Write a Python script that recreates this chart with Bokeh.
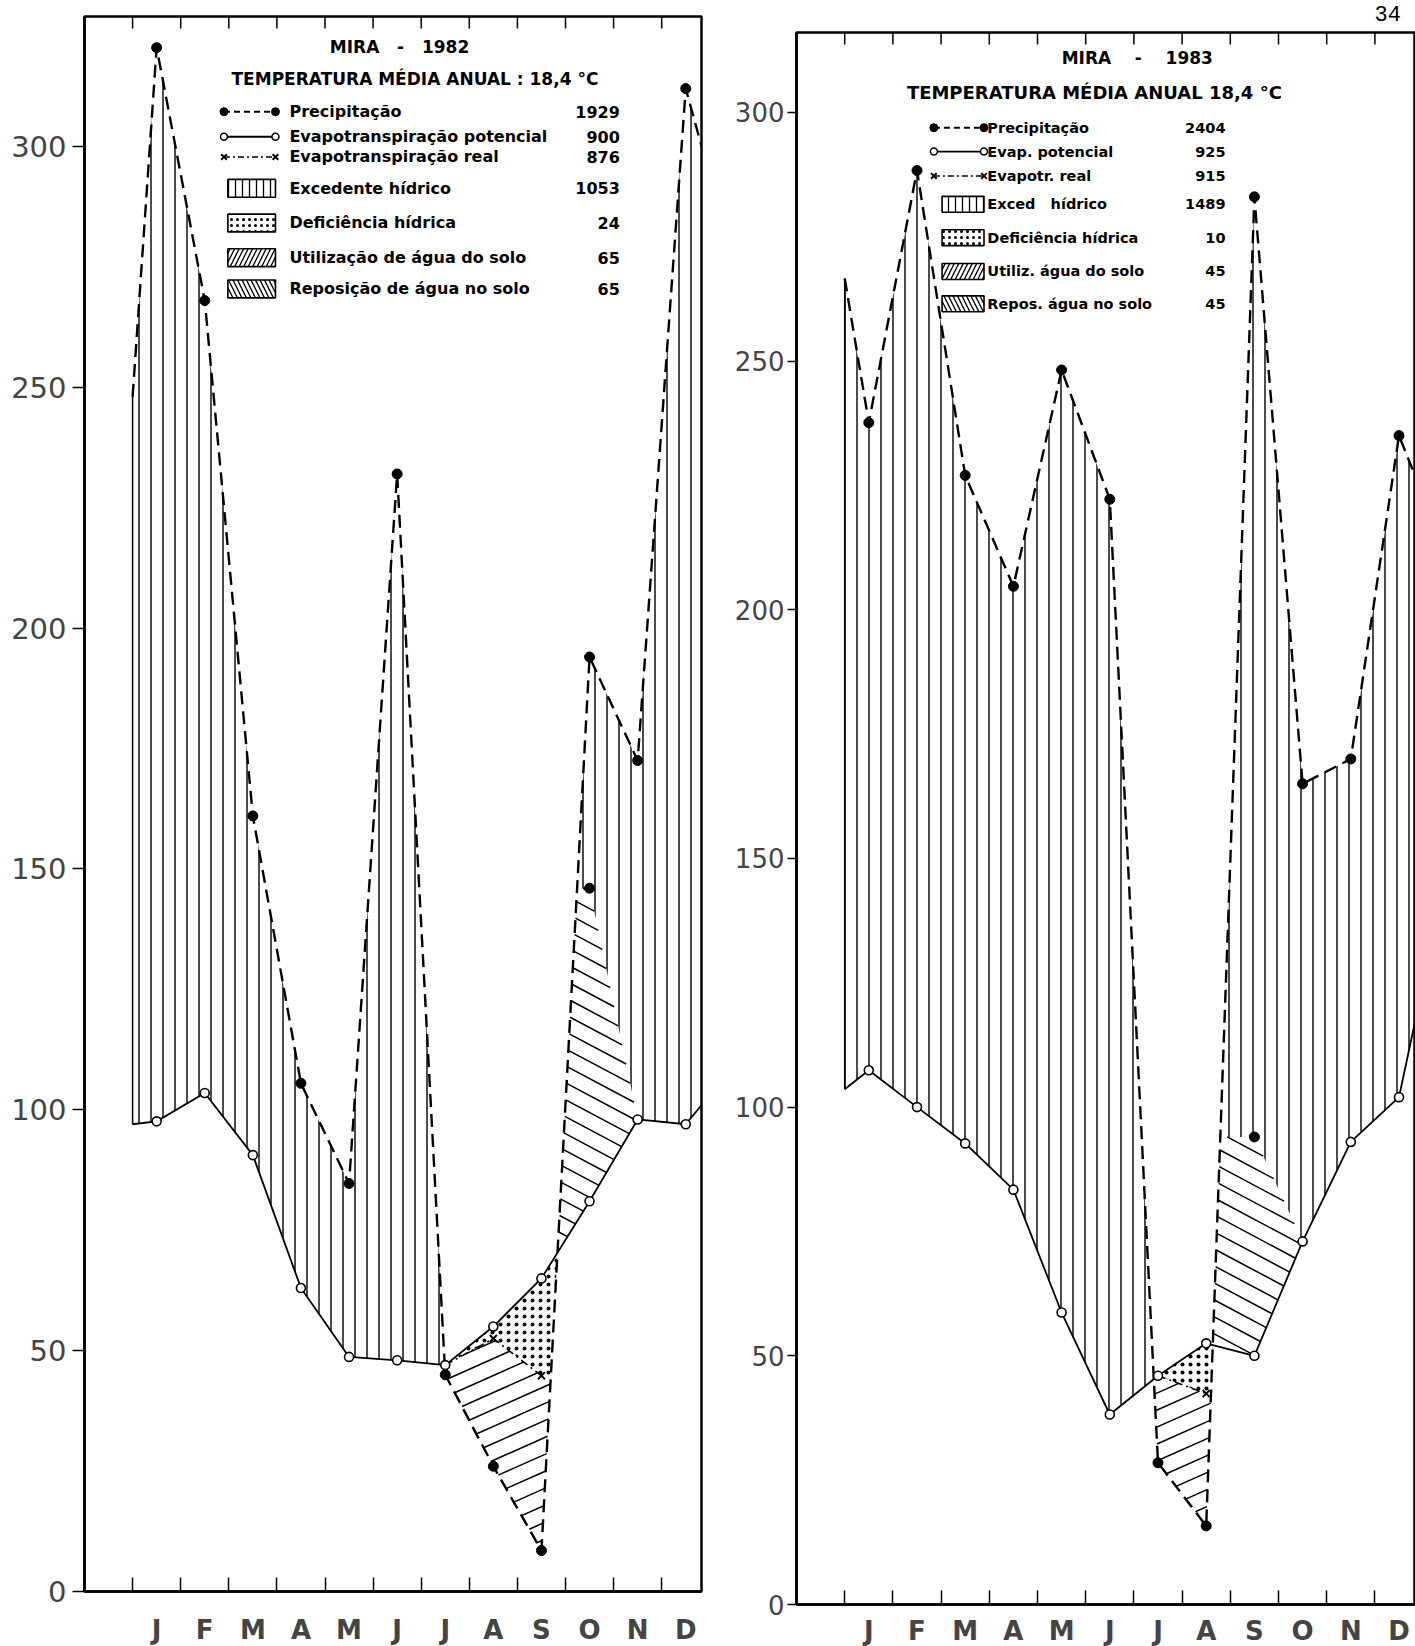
import numpy as np
from bokeh.plotting import figure
from bokeh.layouts import row, column
from bokeh.models import FixedTicker, LinearAxis, Range1d, Div
from bokeh.embed import file_html
from bokeh.resources import INLINE
from bokeh.core.properties import value

# ---------------- data ----------------
MONTHS = ["J", "F", "M", "A", "M", "J", "J", "A", "S", "O", "N", "D"]
MONTH_X = [1.5 + i for i in range(12)]
BOUNDS = list(range(1, 13))
Y_TICKS = [0, 50, 100, 150, 200, 250, 300]
EDGE_X = [1.0, 12.83]

# Mira 1982
P82 = [320.5, 268, 161, 105.5, 84.7, 232, 45, 26, 8.5, 194, 172.5, 312]
ETP82 = [97.6, 103.5, 90.6, 63, 48.7, 48, 47, 55, 65, 81, 98, 97]
P82_EDGE = [248, 300]
ETP82_EDGE = [97, 101]
ETR82_IDX = [6, 7, 8]
ETR82 = [47, 52.5, 44.8]
CAP82_IDX = [9, 10]
CAP82 = [146, 98]
LEG82_LABELS = ["Precipitação", "Evapotranspiração potencial", "Evapotranspiração real",
                "Excedente hídrico", "Deficiência hídrica", "Utilização de água do solo",
                "Reposição de água no solo"]
LEG82_VALUES = ["1929", "900", "876", "1053", "24", "65", "65"]

# Mira 1983
P83 = [237.6, 288.3, 227, 204.7, 248.2, 222.2, 28.5, 15.8, 283, 165, 170, 235]
ETP83 = [107.4, 100, 92.7, 83.4, 58.7, 38.2, 46, 52.5, 50, 73, 93, 102]
P83_EDGE = [266.6, 227]
ETP83_EDGE = [103.6, 117]
ETR83_IDX = [6, 7]
ETR83 = [46, 42.4]
CAP83_IDX = [8, 9]
CAP83 = [94, 73]
LEG83_LABELS = ["Precipitação", "Evap. potencial", "Evapotr. real", "Exced\u00a0\u00a0\u00a0hídrico",
                "Deficiência hídrica", "Utiliz. água do solo", "Repos. água no solo"]
LEG83_VALUES = ["2404", "925", "915", "1489", "10", "45", "45"]

FONT = "DejaVu Sans"
NB = "\u00a0"


def band(x0, x1, ftop, fbot, extra):
    x = np.linspace(x0, x1, 3000)
    x = np.union1d(x, [e for e in extra if x0 <= e <= x1])
    t = ftop(x)
    b = fbot(x)
    idx = np.flatnonzero(t > b + 1e-9)
    xs, ys = [], []
    if len(idx) == 0:
        return xs, ys
    for s in np.split(idx, np.flatnonzero(np.diff(idx) > 1) + 1):
        if len(s) < 2:
            continue
        xx = x[s]
        xs.append(np.concatenate([xx, xx[::-1]]).tolist())
        ys.append(np.concatenate([t[s], b[s][::-1]]).tolist())
    return xs, ys


def hatch_lines(polys_x, polys_y, ang, spacing, ppx, ppy):
    a = np.radians(ang)
    d = (np.cos(a), np.sin(a))
    n = (-np.sin(a), np.cos(a))
    out_x, out_y = [], []
    for qx, qy in zip(polys_x, polys_y):
        X = np.append(np.asarray(qx), qx[0]) * ppx
        Y = np.append(np.asarray(qy), qy[0]) * ppy
        s = X * n[0] + Y * n[1]
        sa, sb = s[:-1], s[1:]
        for k in np.arange(np.ceil(s.min() / spacing), np.floor(s.max() / spacing) + 1):
            s0 = k * spacing + 0.013
            m = (sa - s0) * (sb - s0) < 0
            if not m.any():
                continue
            t = (s0 - sa[m]) / (sb[m] - sa[m])
            xi = X[:-1][m] + t * (X[1:][m] - X[:-1][m])
            yi = Y[:-1][m] + t * (Y[1:][m] - Y[:-1][m])
            o = np.argsort(xi * d[0] + yi * d[1])
            xi, yi = xi[o], yi[o]
            for j in range(0, len(xi) - 1, 2):
                out_x.append([xi[j] / ppx, xi[j + 1] / ppx])
                out_y.append([yi[j] / ppy, yi[j + 1] / ppy])
    return out_x, out_y


def make_panel(P, ETP, P_edge, ETP_edge, ETR_idx, ETR, CAP_idx, CAP, labels, values,
               title, subtitle, lay):
    ppu = lay["fh"] / lay["yend"]
    ppx = lay["fw"] / lay["xend"]
    p = figure(frame_width=lay["fw"], frame_height=lay["fh"],
               x_range=Range1d(0, lay["xend"]), y_range=Range1d(0, lay["yend"]),
               output_backend="svg", toolbar_location=None,
               min_border_left=lay["bl"], min_border_right=lay["br"],
               min_border_top=lay["bt"], min_border_bottom=lay["bb"],
               x_axis_location=None, y_axis_location=None)
    p.background_fill_color = "white"
    p.border_fill_color = "white"
    p.outline_line_color = "black"
    p.outline_line_width = 2.5
    p.xgrid.visible = False
    p.ygrid.visible = False

    yax = LinearAxis(ticker=FixedTicker(ticks=Y_TICKS))
    yax.axis_line_width = 2.5
    yax.major_tick_out = lay["ytick"]
    yax.major_tick_in = 0
    yax.major_tick_line_width = 1.5
    yax.minor_tick_line_color = None
    yax.major_label_text_font = FONT
    yax.major_label_text_font_size = lay["yfs"]
    yax.major_label_standoff = lay["ystand"]
    p.add_layout(yax, "left")

    xax = LinearAxis(ticker=FixedTicker(ticks=MONTH_X, minor_ticks=BOUNDS))
    xax.major_label_overrides = {mx: m for mx, m in zip(MONTH_X, MONTHS)}
    xax.axis_line_width = 2.5
    xax.major_tick_in = 0
    xax.major_tick_out = 0
    xax.minor_tick_in = 14
    xax.minor_tick_out = 0
    xax.minor_tick_line_width = 1.5
    xax.major_label_text_font = FONT
    xax.major_label_text_font_style = "bold"
    xax.major_label_text_font_size = "26px"
    xax.major_label_standoff = lay["xstand"]
    p.add_layout(xax, "below")

    ytop = lay["yend"]
    p.segment(x0=BOUNDS, y0=[ytop] * len(BOUNDS), x1=BOUNDS,
              y1=[ytop - 12 / ppu] * len(BOUNDS), line_color="black", line_width=1.5)

    px = [EDGE_X[0]] + MONTH_X + [EDGE_X[1]]
    py = [P_edge[0]] + P + [P_edge[1]]
    ey = [ETP_edge[0]] + ETP + [ETP_edge[1]]
    rx = [MONTH_X[i] for i in ETR_idx]
    cx = [MONTH_X[i] for i in CAP_idx]

    fP = lambda x: np.interp(x, px, py)
    fE = lambda x: np.interp(x, px, ey)
    fR = lambda x: np.interp(x, rx, ETR)
    fC = lambda x: np.interp(x, cx, CAP)
    cz0, cz1 = cx[0] - 1, cx[-1]
    extra = px + rx + cx

    def fBotExc(x):
        b = fE(x)
        inz = (x >= cz0) & (x <= cz1)
        return np.where(inz, np.maximum(b, fC(x)), b)

    # water surplus: vertical hatching
    xs, ys = band(EDGE_X[0], EDGE_X[1], fP, fBotExc, extra)
    p.patches(xs, ys, fill_color=None, line_color=None, hatch_pattern="vertical_line",
              hatch_scale=12, hatch_weight=1.4, hatch_color="black")

    # soil water recharge: falling hatch
    xs, ys = band(cz0, cz1, lambda x: np.minimum(fP(x), fC(x)), fE, extra)
    hx, hy = hatch_lines(xs, ys, -28, 15, ppx, ppu)
    p.multi_line(hx, hy, line_color="black", line_width=1.5)

    # soil water use: rising hatch
    xs, ys = band(rx[0] - 1, rx[-1] + 1, lambda x: np.minimum(fR(x), fE(x)), fP, extra)
    hx, hy = hatch_lines(xs, ys, 24, 15.5, ppx, ppu)
    p.multi_line(hx, hy, line_color="black", line_width=1.5)

    # water deficit: dots
    xs, ys = band(rx[0] - 1, rx[-1] + 1, fE, lambda x: np.maximum(fR(x), fP(x)), extra)
    p.patches(xs, ys, fill_color=None, line_color=None, hatch_pattern="dot",
              hatch_scale=8, hatch_weight=2.0, hatch_color="black")

    p.segment(x0=[EDGE_X[0]], y0=[ETP_edge[0]], x1=[EDGE_X[0]], y1=[P_edge[0]],
              line_color="black", line_width=1.5)

    p.line(px, ey, line_color="black", line_width=1.8)
    p.line(px, py, line_color="black", line_width=2.4, line_dash="13 7")
    p.line(rx, ETR, line_color="black", line_width=1.6, line_dash="8 4 2 4")

    p.scatter(MONTH_X, ETP, marker="circle", size=9, fill_color="white",
              line_color="black", line_width=1.6)
    p.scatter(MONTH_X, P, marker="circle", size=10, fill_color="black", line_color="black")
    mx = [x for x, r, i in zip(rx, ETR, ETR_idx) if abs(r - ETP[i]) > 0.5]
    my = [r for r, i in zip(ETR, ETR_idx) if abs(r - ETP[i]) > 0.5]
    p.scatter(mx, my, marker="x", size=10, line_color="black", line_width=2)
    p.scatter([cx[0]], [CAP[0]], marker="circle", size=10, fill_color="black", line_color="black")

    # legend block
    L = lay
    p.text(x=[L["tx"]], y=[L["ty"]], text=[title], text_font=value(FONT), text_font_style="bold",
           text_font_size=L["tfs"], text_align="center", text_baseline="middle")
    p.text(x=[L["sx"]], y=[L["sy"]], text=[subtitle], text_font=value(FONT), text_font_style="bold",
           text_font_size=L["sfs"], text_align="center", text_baseline="middle")
    ry = L["rows"]
    x0, x1 = L["sym"]
    p.line([x0, x1], [ry[0], ry[0]], line_color="black", line_width=2, line_dash="6 4")
    p.scatter([x0, x1], [ry[0], ry[0]], marker="circle", size=8, fill_color="black", line_color="black")
    p.line([x0, x1], [ry[1], ry[1]], line_color="black", line_width=1.8)
    p.scatter([x0, x1], [ry[1], ry[1]], marker="circle", size=7, fill_color="white",
              line_color="black", line_width=1.5)
    p.line([x0, x1], [ry[2], ry[2]], line_color="black", line_width=1.6, line_dash="6 3 2 3")
    p.scatter([x0, x1], [ry[2], ry[2]], marker="x", size=8, line_color="black", line_width=2)
    h = L["bh"] / 2
    for yy, pat, sc in zip(ry[3:], ["vertical_line", "dot", "right_diagonal_line", "left_diagonal_line"],
                           [7, 6, 9, 9]):
        p.quad(left=[L["bx"]], right=[x1], top=[yy + h], bottom=[yy - h], fill_color="white",
               line_color="black", line_width=1.6, hatch_pattern=pat, hatch_scale=sc,
               hatch_weight=1.3, hatch_color="black")
    p.text(x=[L["lx"]] * 7, y=ry, text=labels, text_font=value(FONT), text_font_style="bold",
           text_font_size=L["lfs"], text_baseline="middle")
    p.text(x=[L["nx"]] * 7, y=ry, text=values, text_font=value(FONT), text_font_style="bold",
           text_font_size=L["lfs"], text_baseline="middle", text_align="right")
    return p


lay82 = dict(fw=617, fh=1575, xend=617 / 48.1, yend=1575 / 4.817, bl=84, br=5, bt=16, bb=55,
             xstand=23, ytick=12, ystand=6, yfs="29px",
             tx=6.55, ty=320.7, tfs="17px", sx=6.87, sy=314.0, sfs="17px",
             rows=[307.2, 302.0, 297.8, 291.3, 284.1, 276.9, 270.4],
             sym=(2.90, 3.97), bx=2.98, bh=3.7, lx=4.26, nx=11.13, lfs="16px")
lay83 = dict(fw=619, fh=1572, xend=619 / 48.2, yend=1572 / 4.974, bl=90, br=0, bt=8, bb=42,
             xstand=11, ytick=9, ystand=3, yfs="26px",
             tx=7.07, ty=310.9, tfs="17px", sx=6.18, sy=303.9, sfs="18px",
             rows=[296.9, 292.1, 287.2, 281.5, 274.8, 268.0, 261.5],
             sym=(2.85, 3.89), bx=3.02, bh=3.2, lx=3.96, nx=8.90, lfs="14.5px")

p1 = make_panel(P82, ETP82, P82_EDGE, ETP82_EDGE, ETR82_IDX, ETR82, CAP82_IDX, CAP82,
                LEG82_LABELS, LEG82_VALUES, "MIRA" + NB * 3 + "-" + NB * 3 + "1982",
                "TEMPERATURA MÉDIA ANUAL : 18,4 °C", lay82)
p2 = make_panel(P83, ETP83, P83_EDGE, ETP83_EDGE, ETR83_IDX, ETR83, CAP83_IDX, CAP83,
                LEG83_LABELS, LEG83_VALUES, "MIRA" + NB * 4 + "-" + NB * 4 + "1983",
                "TEMPERATURA MÉDIA ANUAL 18,4 °C", lay83)

page_no = Div(text="34", width=709, height=24, margin=(0, 0, 0, 0),
              styles={"font-family": "Liberation Mono", "font-size": "22px",
                      "text-align": "right", "padding-right": "14px", "padding-top": "5px",
                      "line-height": "22px", "box-sizing": "border-box", "overflow": "visible"})

layout = row(p1, column(page_no, p2, spacing=0), spacing=0)
open("out.html", "w").write(file_html(layout, INLINE))
